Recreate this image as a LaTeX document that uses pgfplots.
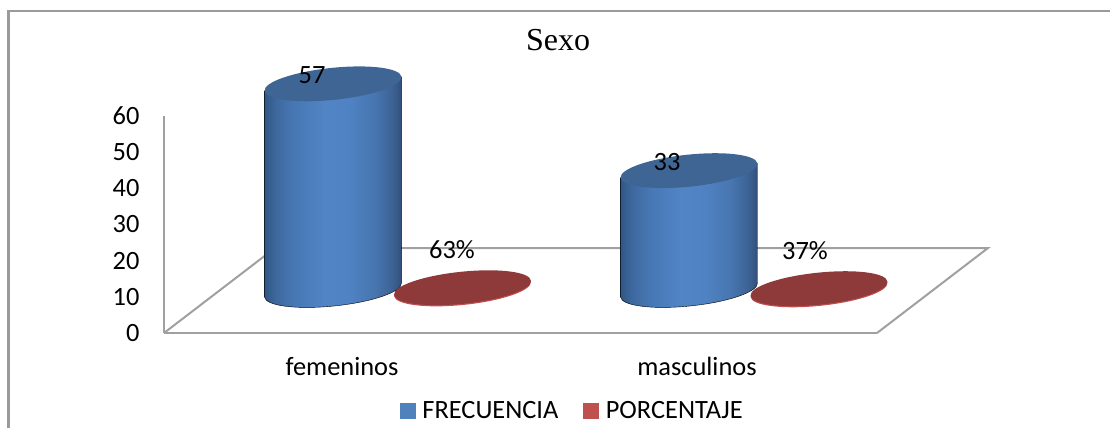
\documentclass[border=0pt]{standalone}
\usepackage{pgfplots}
\pgfplotsset{compat=1.18}
\usepackage{fontspec}
\setmainfont{Carlito}
\newfontfamily\titlefont{Liberation Serif}
\definecolor{axgray}{HTML}{A0A0A0}
\definecolor{framegray}{HTML}{9A9A9A}
\definecolor{capblue}{HTML}{3F6594}
\definecolor{legblue}{HTML}{4F81BD}
\definecolor{legred}{HTML}{C0504D}
\definecolor{capred}{HTML}{8E3A3A}
\pgfdeclarehorizontalshading{cylblue}{100bp}{
  rgb(0bp)=(0.19,0.34,0.52);
  rgb(25bp)=(0.19,0.34,0.52);
  rgb(29bp)=(0.24,0.41,0.62);
  rgb(36bp)=(0.28,0.47,0.71);
  rgb(47bp)=(0.32,0.52,0.77);
  rgb(56bp)=(0.31,0.51,0.76);
  rgb(65bp)=(0.28,0.46,0.69);
  rgb(71bp)=(0.24,0.39,0.59);
  rgb(75bp)=(0.19,0.31,0.47);
  rgb(100bp)=(0.19,0.31,0.47)}
\pgfdeclareplotmark{emptymark}{}
% tilted disc: centre y offset, colour
\newcommand\tiltdisc[2]{\pgfscope\pgfsetfillcolor{#2}%
  \pgfpathellipse{\pgfpoint{0pt}{#1}}{\pgfpoint{68.44pt}{7.07pt}}{\pgfpoint{-1.64pt}{15.92pt}}%
  \pgfusepath{fill}\endpgfscope}
\begin{document}
\begin{tikzpicture}[x=1pt,y=1pt]
\path[use as bounding box] (0,0) rectangle (1110,428);
\draw[framegray,line width=2.5pt] (8.5,0) -- (8.5,417) -- (1110,417);
\begin{axis}[
  at={(164pt,95pt)},anchor=south west,
  scale only axis,width=713pt,height=217pt,
  xmin=164,xmax=877,ymin=0,ymax=60,
  clip=false,
  axis x line*=bottom,axis y line*=left,
  axis line style={axgray,line width=2pt,-},
  xtick={342,697},xticklabels={femeninos,masculinos},
  ytick={0,10,...,60},
  major tick length=0pt,
  /pgf/number format/assume math mode=true,
  tick label style={font=\fontsize{26.4}{30}\selectfont},
  xticklabel style={yshift=-21pt},
  yticklabel style={xshift=-21pt},
  legend columns=2,
  legend style={at={(236pt,-89pt)},anchor=south west,draw=none,fill=none,
    font=\fontsize{26.4}{30}\selectfont,inner sep=0pt,outer sep=0pt,
    /tikz/every odd column/.append style={column sep=5pt},
    /tikz/every even column/.append style={column sep=23pt}},
  legend cell align=left,
]
% floor
\addplot[axgray,line width=2pt,forget plot] coordinates {(164,0) (275,23.5) (988,23.5) (877,0)};
% frequency cylinders
\addplot[forget plot,only marks,scatter,mark=emptymark,
  visualization depends on={rawy\as\cylh},
  scatter/@pre marker code/.code={%
    \pgfmathsetmacro\hh{\cylh*3.617}%
    \path[shading=cylblue] (-68.44pt,35.93pt) -- (-68.44pt,{(35.93-\hh)*1pt})
      .. controls (-67.53pt,{(27.14-\hh)*1pt}) and (-36.16pt,{(23.17-\hh)*1pt}) .. (1.64pt,{(27.08-\hh)*1pt})
      .. controls (39.44pt,{(30.99-\hh)*1pt}) and (69.35pt,{(41.28-\hh)*1pt}) .. (68.44pt,{(50.07-\hh)*1pt})
      -- (68.44pt,50.07pt) -- cycle;
    \tiltdisc{43pt}{capblue}},
  scatter/@post marker code/.code={},
] coordinates {(333,57) (689,33)};
% percentage discs
\addplot[forget plot,only marks,scatter,mark=emptymark,
  scatter/@pre marker code/.code={%
    \tiltdisc{41.8pt}{legred}%
    \tiltdisc{43pt}{capred}},
  scatter/@post marker code/.code={},
] coordinates {(462.5,0.63) (819,0.37)};
% labels
\addplot[forget plot,only marks,mark=emptymark,point meta=explicit symbolic,
  nodes near coords,
  every node near coord/.append style={anchor=center,yshift=52pt,font=\fontsize{26.4}{30}\selectfont,inner sep=0pt},
] coordinates {(312,57)[57] (667,33)[33]};
\addplot[forget plot,only marks,mark=emptymark,point meta=explicit symbolic,
  nodes near coords,
  every node near coord/.append style={anchor=center,yshift=81pt,font=\fontsize{26.4}{30}\selectfont,inner sep=0pt},
] coordinates {(452,0.63)[63\%] (805,0.37)[37\%]};
\addlegendimage{legend image code/.code={\fill[legblue] (0pt,-7.5pt) rectangle (15pt,7.5pt);}}
\addlegendentry{FRECUENCIA}
\addlegendimage{legend image code/.code={\fill[legred] (0pt,-7.5pt) rectangle (15pt,7.5pt);}}
\addlegendentry{PORCENTAJE}
\end{axis}
\node[font=\titlefont\fontsize{32}{36}\selectfont,anchor=center] at (558,388) {Sexo};
\end{tikzpicture}
\end{document}
